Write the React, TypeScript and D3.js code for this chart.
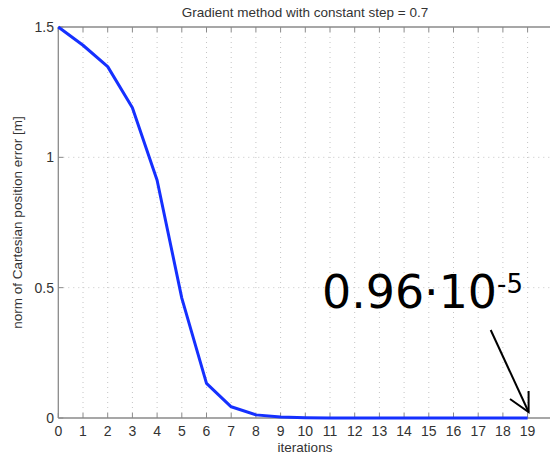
import React from "react";
import * as d3 from "d3";

const iterations = [0, 1, 2, 3, 4, 5, 6, 7, 8, 9, 10, 11, 12, 13, 14, 15, 16, 17, 18, 19];
const errorNorm = [1.5, 1.43, 1.348, 1.19, 0.912, 0.46, 0.133, 0.043, 0.012, 0.0035, 0.0011, 0.00035, 0.00011, 0.00004, 0.000015, 0.000006, 0.000003, 0.0000018, 0.0000012, 0.0000096];
const xTicks = [0, 1, 2, 3, 4, 5, 6, 7, 8, 9, 10, 11, 12, 13, 14, 15, 16, 17, 18, 19, 20];
const yTicks = [0, 0.5, 1, 1.5];
const yTickLabels = ["0", "0.5", "1", "1.5"];
const titleText = "Gradient method with constant step = 0.7";
const xLabel = "iterations";
const yLabel = "norm of Cartesian position error [m]";
const annotationMain = "0.96·10";
const annotationExp = "-5";

export default function App() {
  const W = 550, H = 456;
  const x = d3.scaleLinear().domain([0, 20]).range([58.3, 552.3]);
  const y = d3.scaleLinear().domain([0, 1.5]).range([418, 27]);
  const line = d3.line<number>().x((_, i) => x(iterations[i])).y((d) => y(d));
  const font = "'Liberation Sans', Arial, Helvetica, sans-serif";
  const axisColor = "#8a8a8a";
  const gridColor = "#c4c4c4";
  const tipX = x(19) + 1, tipY = y(0) - 6;
  return (
    <svg width={W} height={H} style={{ position: "absolute", left: 0, top: 0, background: "#fff" }}>
      <rect width={W} height={H} fill="#fff" />
      {/* grid */}
      {xTicks.filter((t) => t > 0 && t < 20).map((t) => (
        <line key={"gx" + t} x1={x(t)} x2={x(t)} y1={y(1.5)} y2={y(0)} stroke={gridColor} strokeWidth={1} strokeDasharray="1,4" />
      ))}
      {yTicks.filter((t) => t > 0 && t < 1.5).map((t) => (
        <line key={"gy" + t} x1={x(0)} x2={x(20)} y1={y(t)} y2={y(t)} stroke={gridColor} strokeWidth={1} strokeDasharray="1,4" />
      ))}
      {/* axes box */}
      <line x1={x(0)} x2={x(20)} y1={y(1.5)} y2={y(1.5)} stroke={axisColor} strokeWidth={1.3} />
      <line x1={x(0)} x2={x(20)} y1={y(0)} y2={y(0)} stroke={axisColor} strokeWidth={1.3} />
      <line x1={x(0)} x2={x(0)} y1={y(1.5)} y2={y(0)} stroke={axisColor} strokeWidth={1.3} />
      {/* ticks */}
      {xTicks.map((t) => (
        <g key={"tx" + t}>
          <line x1={x(t)} x2={x(t)} y1={y(0)} y2={y(0) - 5} stroke={axisColor} strokeWidth={1} />
          <line x1={x(t)} x2={x(t)} y1={y(1.5)} y2={y(1.5) + 5} stroke={axisColor} strokeWidth={1} />
          {t < 20 && (
            <text x={x(t)} y={436} textAnchor="middle" fontFamily={font} fontSize={14} fill="#333">{t}</text>
          )}
        </g>
      ))}
      {yTicks.map((t, i) => (
        <g key={"ty" + t}>
          <line x1={x(0)} x2={x(0) + 5} y1={y(t)} y2={y(t)} stroke={axisColor} strokeWidth={1} />
          <text x={54} y={y(t)} dy="0.35em" textAnchor="end" fontFamily={font} fontSize={14} fill="#333">{yTickLabels[i]}</text>
        </g>
      ))}
      {/* data line */}
      <path d={line(errorNorm) || ""} fill="none" stroke="#1530ff" strokeWidth={3} strokeLinejoin="round" />
      {/* labels */}
      <text x={305} y={17} textAnchor="middle" fontFamily={font} fontSize={13.5} fill="#333">{titleText}</text>
      <text x={305} y={452} textAnchor="middle" fontFamily={font} fontSize={13.5} fill="#333">{xLabel}</text>
      <text transform={`translate(22, ${(y(0) + y(1.5)) / 2}) rotate(-90)`} textAnchor="middle" fontFamily={font} fontSize={13.5} fill="#333">{yLabel}</text>
      {/* annotation */}
      <text x={322} y={308} fontFamily="'DejaVu Sans', Verdana, sans-serif" fill="#000">
        <tspan fontSize={46} textLength={175} lengthAdjust="spacingAndGlyphs">{annotationMain}</tspan>
        <tspan fontSize={26} dy={-15}>{annotationExp}</tspan>
      </text>
      <line x1={490.7} y1={330} x2={tipX} y2={tipY} stroke="#000" strokeWidth={2} />
      <polyline points={`${510},${399} ${tipX},${tipY} ${tipX},${391}`} fill="none" stroke="#000" strokeWidth={2} />
    </svg>
  );
}
